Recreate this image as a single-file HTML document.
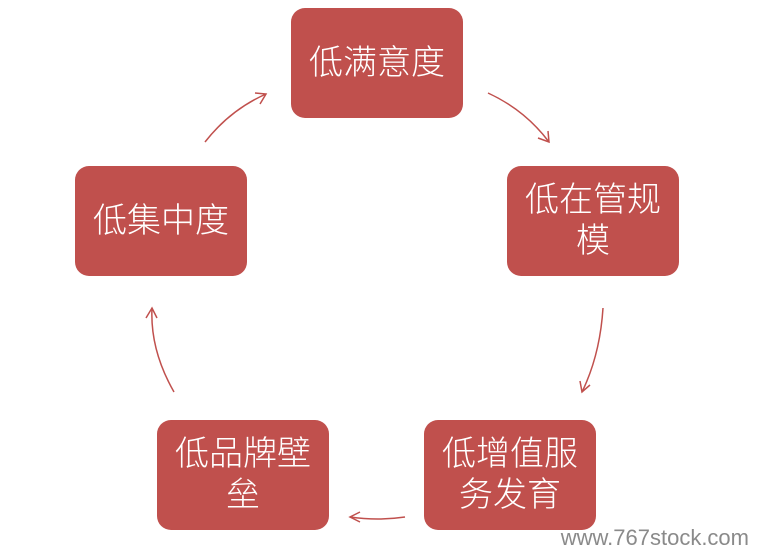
<!DOCTYPE html>
<html><head><meta charset="utf-8"><style>
body{margin:0;width:763px;height:556px;background:#fff;position:relative;overflow:hidden;font-family:"Liberation Sans","Noto Sans CJK SC",sans-serif}
.b{position:absolute;width:172px;height:110px;background:#c0504d;border-radius:14px;color:#fff;font-size:34px;line-height:41px;display:flex;align-items:center;justify-content:center;text-align:center;font-weight:300}
.wm{position:absolute;right:14px;bottom:5px;color:#8a8a8a;font-size:22px}
svg{position:absolute;left:0;top:0}
</style></head><body>
<svg width="763" height="556" fill="none" stroke="#c0504d" stroke-width="1.5">
<path d="M488 93 Q525 110 549 142"/><path d="M538 138 L549 142 L548 131"/>
<path d="M603 308 Q600 355 582 392"/><path d="M580 381 L582 392 L590 385"/>
<path d="M405 517 Q378 521 350 517"/><path d="M360 512 L350 517 L360 522"/>
<path d="M174 392 Q150 350 152 308"/><path d="M146 318 L152 308 L157 318"/>
<path d="M205 142 Q230 110 266 94"/><path d="M255 93 L266 94 L260 104"/>
</svg>
<div class="b" style="left:291px;top:8px">低满意度</div>
<div class="b" style="left:507px;top:166px">低在管规<br>模</div>
<div class="b" style="left:424px;top:420px">低增值服<br>务发育</div>
<div class="b" style="left:157px;top:420px">低品牌壁<br>垒</div>
<div class="b" style="left:75px;top:166px">低集中度</div>
<div class="wm">www.767stock.com</div>
</body></html>
